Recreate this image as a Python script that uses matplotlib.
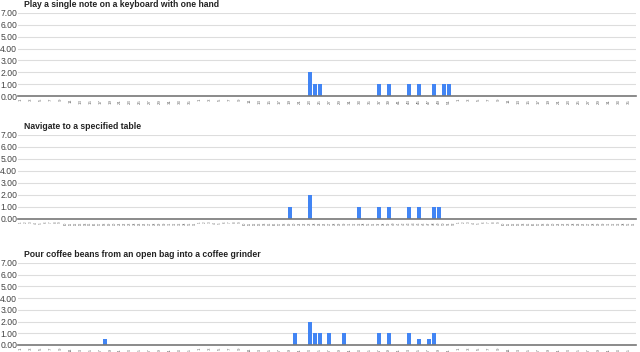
import matplotlib
matplotlib.use("Agg")
import matplotlib.pyplot as plt
import numpy as np

plt.rcParams["font.family"] = ["Liberation Sans", "DejaVu Sans"]

# Categories: week numbers over consecutive periods
categories = ([str(w) for w in range(1, 37)] +
              [str(w) for w in range(1, 53)] +
              [str(w) for w in range(1, 37)])

titles = [
    "Play a single note on a keyboard with one hand",
    "Navigate to a specified table",
    "Pour coffee beans from an open bag into a coffee grinder",
]

# Non-zero values (category index -> value)
play_idx = [58, 59, 60, 72, 74, 78, 80, 83, 85, 86]
play_val = [2, 1, 1, 1, 1, 1, 1, 1, 1, 1]

nav_idx = [54, 58, 68, 72, 74, 78, 80, 83, 84]
nav_val = [1, 2, 1, 1, 1, 1, 1, 1, 1]

pour_idx = [17, 55, 58, 59, 60, 62, 65, 72, 74, 78, 80, 82, 83]
pour_val = [0.5, 1, 2, 1, 1, 1, 1, 1, 1, 1, 0.5, 0.5, 1]

y_ticks = [0, 1, 2, 3, 4, 5, 6, 7]

series = []
for idx, val in [(play_idx, play_val), (nav_idx, nav_val), (pour_idx, pour_val)]:
    s = np.zeros(len(categories))
    s[idx] = val
    series.append(s)

fig = plt.figure(figsize=(6.4, 3.52), dpi=100)
rects = [
    (18/640, 1 - 96/352, 618/640, 83/352),
    (18/640, 1 - 219/352, 618/640, 84/352),
    (18/640, 1 - 345/352, 618/640, 82/352),
]
label_step = [2, 1, 2]
label_size = [3.2, 2.2, 3.2]
BLUE = "#4285F4"

for k in range(3):
    ax = fig.add_axes(rects[k])
    x = np.arange(len(categories))
    ax.bar(x, series[k], width=0.8, color=BLUE, zorder=3)
    ax.set_xlim(-0.5, len(categories) - 0.5)
    ax.set_ylim(0, 7)
    ax.set_yticks(y_ticks)
    ax.set_yticklabels([f"{v:.2f}" for v in y_ticks], fontsize=6.2, color="#444444")
    ax.grid(axis="y", color="#dddddd", linewidth=0.8, zorder=0)
    ax.set_xticks(x[::label_step[k]])
    ax.set_xticklabels(categories[::label_step[k]], rotation=90,
                       fontsize=label_size[k], color="#666666")
    ax.tick_params(axis="both", length=0, pad=2)
    ax.tick_params(axis="y", pad=0.5)
    for sp in ["top", "right", "left"]:
        ax.spines[sp].set_visible(False)
    ax.spines["bottom"].set_color("#777777")
    ax.spines["bottom"].set_linewidth(1.2)
    ax.spines["bottom"].set_zorder(4)
    ax.set_title(titles[k], loc="left", fontsize=6.2, fontweight="bold",
                 color="#222222", pad=4, x=0.01)

fig.savefig("out.png", dpi=100)
